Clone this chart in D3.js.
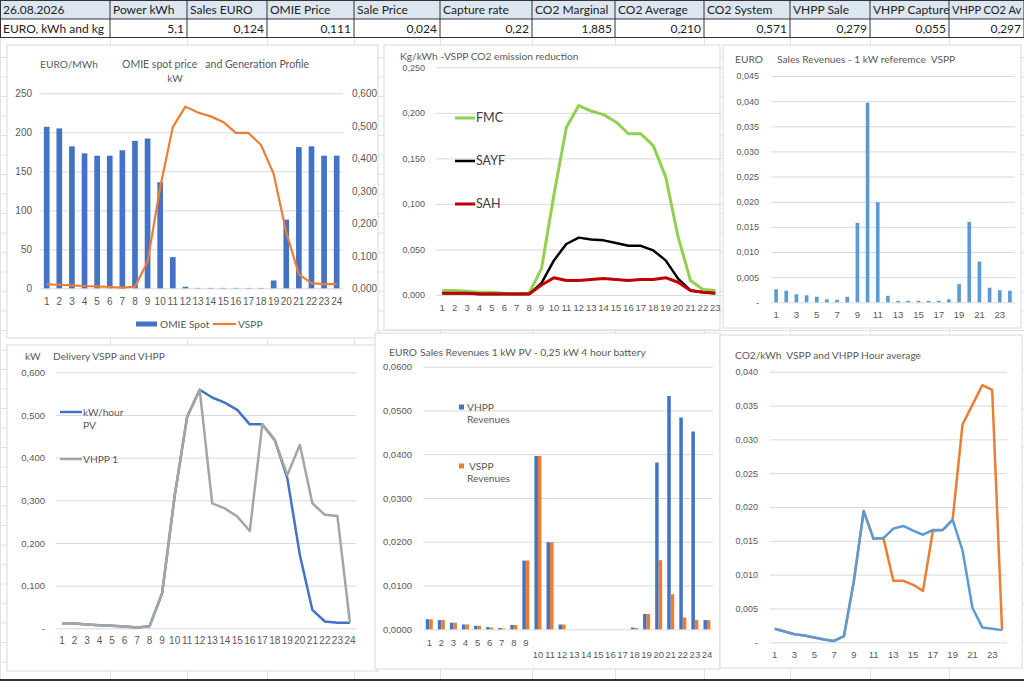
<!DOCTYPE html>
<html>
<head>
<meta charset="utf-8">
<script src="https://cdn.jsdelivr.net/npm/d3@7.9.0/dist/d3.min.js"></script>
<style>
  body { margin: 0; background: #fff; }
  svg { display: block; font-family: Lato, "Liberation Sans", sans-serif; }
</style>
</head>
<body>
<svg id="sheet" width="1024" height="681"></svg>
<script>
// ---- data ----
const tableHeads = ['26.08.2026', 'Power kWh', 'Sales EURO', 'OMIE Price', 'Sale Price', 'Capture rate',
  'CO2 Marginal', 'CO2 Average', 'CO2 System', 'VHPP Sale', 'VHPP Capture', 'VHPP CO2 Av'];
const tableValues = ['EURO, kWh and kg', '5,1', '0,124', '0,111', '0,024', '0,22',
  '1,885', '0,210', '0,571', '0,279', '0,055', '0,297'];

const hours = [1, 2, 3, 4, 5, 6, 7, 8, 9, 10, 11, 12, 13, 14, 15, 16, 17, 18, 19, 20, 21, 22, 23, 24];
const hours23 = [1, 2, 3, 4, 5, 6, 7, 8, 9, 10, 11, 12, 13, 14, 15, 16, 17, 18, 19, 20, 21, 22, 23];

const omieSpot = [207, 205, 182, 173, 170, 170, 177, 189, 192, 136, 40, 2, 0.5, 0.5, 0.5, 0.5, 0.5, 0.5, 10, 88, 181, 182, 170, 170];
const vsppKw = [0.012, 0.011, 0.009, 0.007, 0.006, 0.004, 0.002, 0.005, 0.082, 0.31, 0.496, 0.559,
  0.541, 0.529, 0.512, 0.478, 0.478, 0.441, 0.352, 0.172, 0.043, 0.016, 0.013, 0.013];
const vhppKw = [0.012, 0.011, 0.009, 0.007, 0.006, 0.004, 0.002, 0.005, 0.082, 0.31, 0.496, 0.559,
  0.293, 0.281, 0.262, 0.228, 0.478, 0.441, 0.359, 0.430, 0.293, 0.266, 0.263, 0.013];

const co2Fmc = [0.005, 0.005, 0.004, 0.003, 0.003, 0.002, 0.001, 0.002, 0.029, 0.110, 0.184, 0.208,
  0.202, 0.198, 0.190, 0.177, 0.177, 0.164, 0.130, 0.064, 0.016, 0.006, 0.005];
const co2Sayf = [0.002, 0.002, 0.002, 0.001, 0.001, 0.001, 0.001, 0.001, 0.013, 0.038, 0.056, 0.063,
  0.061, 0.060, 0.057, 0.054, 0.054, 0.049, 0.038, 0.018, 0.005, 0.003, 0.002];
const co2Sah = [0.002, 0.002, 0.002, 0.001, 0.001, 0.001, 0.001, 0.001, 0.011, 0.019, 0.016, 0.016,
  0.017, 0.018, 0.017, 0.016, 0.017, 0.017, 0.019, 0.014, 0.005, 0.003, 0.002];

const revVsppRef = [0.0026, 0.0023, 0.0016, 0.0014, 0.0011, 0.0006, 0.0005, 0.0011, 0.0158, 0.0397, 0.0199, 0.0013,
  0.0003, 0.0003, 0.0003, 0.0003, 0.0003, 0.0006, 0.0036, 0.0160, 0.0081, 0.0029, 0.0024, 0.0023];

const revVhpp = [0.0023, 0.0021, 0.0015, 0.0011, 0.0008, 0.0005, 0.0003, 0.0010, 0.0157, 0.0396, 0.0199, 0.0011,
  0, 0, 0, 0, 0, 0.0004, 0.0035, 0.0381, 0.0533, 0.0484, 0.0452, 0.0021];
const revVspp = [0.0023, 0.0021, 0.0015, 0.0011, 0.0008, 0.0004, 0.0002, 0.0010, 0.0157, 0.0396, 0.0199, 0.0011,
  0, 0, 0, 0, 0, 0.0003, 0.0035, 0.0158, 0.0080, 0.0027, 0.0021, 0.0021];

const co2VsppAvg = [0.0020, 0.0016, 0.0012, 0.0010, 0.0007, 0.0004, 0.0002, 0.0009, 0.0090, 0.0194, 0.0153, 0.0154,
  0.0168, 0.0172, 0.0165, 0.0159, 0.0166, 0.0166, 0.0181, 0.0136, 0.0051, 0.0022, 0.0020, 0.0018];
const co2VhppAvg = [0.0020, 0.0016, 0.0012, 0.0010, 0.0007, 0.0004, 0.0002, 0.0009, 0.0090, 0.0194, 0.0153, 0.0154,
  0.0091, 0.0091, 0.0085, 0.0076, 0.0165, 0.0166, 0.0181, 0.0322, 0.0351, 0.0380, 0.0373, 0.0018];

const ticksSpot = [0, 50, 100, 150, 200, 250];
const ticksKw = [0, 0.1, 0.2, 0.3, 0.4, 0.5, 0.6];
const ticksCo2 = [0, 0.05, 0.1, 0.15, 0.2, 0.25];
const ticksRef = [0, 0.005, 0.01, 0.015, 0.02, 0.025, 0.03, 0.035, 0.04, 0.045];
const ticksRev = [0, 0.01, 0.02, 0.03, 0.04, 0.05, 0.06];
const ticksAvg = [0, 0.005, 0.01, 0.015, 0.02, 0.025, 0.03, 0.035, 0.04];

// ---- helpers ----
const svg = d3.select('#sheet');
const gray = '#595959';
const titleSize = 10.2;

function comma(spec) {
  const f = d3.format(spec);
  return v => f(v).replace('.', ',');
}
function dashZero(spec) {
  const f = comma(spec);
  return v => (v === 0 ? '-' : f(v));
}

function panel(x, y, w, h) {
  svg.append('rect').attr('x', x).attr('y', y).attr('width', w).attr('height', h)
    .attr('fill', '#fff').attr('stroke', '#d9d9d9');
}

function label(x, y, txt, size, anchor) {
  return svg.append('text').attr('x', x).attr('y', y).attr('dy', '0.35em')
    .attr('font-size', size).attr('fill', gray).attr('text-anchor', anchor || 'start').text(txt);
}

// band x + linear y with gridlines and labels
function frame(o) {
  const x = d3.scaleBand().domain(o.cats).range([o.x0, o.x1])
    .paddingInner(o.pad || 0).paddingOuter((o.pad || 0) / 2);
  const y = d3.scaleLinear().domain(o.domain).range([o.yBot, o.yTop]);
  const fs = o.fs || 9;

  svg.append('g').attr('transform', `translate(${o.x0},0)`)
    .call(d3.axisLeft(y).tickValues(o.ticks).tickFormat(o.fmt)
      .tickSize(-(o.x1 - o.x0)).tickPadding(o.x0 - o.labelX))
    .call(g => g.select('.domain').remove())
    .call(g => g.selectAll('line').attr('stroke', '#d9d9d9'))
    .call(g => g.selectAll('text').attr('fill', gray).attr('font-size', fs).attr('font-family', null));

  svg.append('g').attr('transform', `translate(0,${o.yBot})`)
    .call(d3.axisBottom(x).tickSize(0).tickFormat(d => (o.show && !o.show(d) ? '' : d)))
    .call(g => g.select('.domain').remove())
    .call(g => g.selectAll('text').attr('fill', gray).attr('font-size', o.xfs || fs).attr('font-family', null)
      .attr('dy', '0.35em').attr('y', d => (o.labelY ? o.labelY(d) : o.xLabelY) - o.yBot));
  return { x, y };
}

// ---- spreadsheet background ----
const colEdges = [0, 110, 187, 267, 354, 440, 532, 615, 704, 790, 870, 949, 1024];
const sheet = svg.append('g').attr('stroke', '#e2e2e2');
colEdges.forEach(c => sheet.append('line').attr('x1', c + 0.5).attr('x2', c + 0.5).attr('y1', 38).attr('y2', 681));
for (let r = 38 + 19.5; r < 681; r += 19.5) {
  sheet.append('line').attr('x1', 0).attr('x2', 1024).attr('y1', r).attr('y2', r);
}

// ---- top table ----
const tbl = svg.append('g');
tbl.append('rect').attr('x', 0).attr('y', 0.5).attr('width', 1024).attr('height', 18.5).attr('fill', '#dce6f1');
tbl.append('rect').attr('x', 0).attr('y', 19).attr('width', 1024).attr('height', 18.5).attr('fill', '#fff');
[0.5, 19, 37.5].forEach(yy => tbl.append('line').attr('x1', 0).attr('x2', 1024).attr('y1', yy).attr('y2', yy)
  .attr('stroke', '#333'));
colEdges.forEach(c => tbl.append('line').attr('x1', Math.max(c, 0.5)).attr('x2', Math.max(c, 0.5))
  .attr('y1', 0).attr('y2', 38).attr('stroke', '#333'));
tableHeads.forEach((t, i) => {
  tbl.append('text').attr('x', colEdges[i] + 3).attr('y', 10).attr('dy', '0.35em')
    .attr('font-size', i === tableHeads.length - 1 ? 11 : 12).attr('fill', '#222').text(t);
});
tableValues.forEach((t, i) => {
  const left = i === 0;
  tbl.append('text').attr('x', left ? colEdges[i] + 3 : colEdges[i + 1] - 3).attr('y', 28.5).attr('dy', '0.35em')
    .attr('text-anchor', left ? 'start' : 'end').attr('font-size', 12).attr('fill', '#222').text(t);
});

// ---- chart 1: OMIE spot price and generation profile ----
panel(7, 45, 371, 293);
{
  const c = frame({ cats: hours, x0: 40.4, x1: 343, yBot: 288.3, yTop: 93.3, domain: [0, 250],
    ticks: ticksSpot, fmt: d3.format('d'), labelX: 32, xLabelY: 302, pad: 0.55, fs: 10 });
  const yR = d3.scaleLinear().domain([0, 0.6]).range([288.3, 93.3]);
  svg.append('g').attr('transform', 'translate(343,0)')
    .call(d3.axisRight(yR).tickValues(ticksKw).tickFormat(comma('.3f')).tickSize(0).tickPadding(9))
    .call(g => g.select('.domain').remove())
    .call(g => g.selectAll('text').attr('fill', gray).attr('font-size', 10).attr('font-family', null));

  svg.append('g').selectAll('rect').data(omieSpot).join('rect')
    .attr('x', (d, i) => c.x(hours[i])).attr('width', c.x.bandwidth())
    .attr('y', d => c.y(d)).attr('height', d => c.y(0) - c.y(d)).attr('fill', '#4472c4');

  svg.append('path').datum(vsppKw)
    .attr('d', d3.line().x((d, i) => c.x(hours[i]) + c.x.bandwidth() / 2).y(d => yR(d)))
    .attr('fill', 'none').attr('stroke', '#ed7d31').attr('stroke-width', 2.2).attr('stroke-linejoin', 'round');

  label(40, 64, 'EURO/MWh', titleSize);
  label(122, 64, 'OMIE spot price   and Generation Profile', titleSize + 0.3).attr('xml:space', 'preserve');
  label(175, 78, 'kW', titleSize, 'middle');
  svg.append('rect').attr('x', 136).attr('y', 321.5).attr('width', 21).attr('height', 5).attr('fill', '#4472c4');
  label(160, 324, 'OMIE Spot', titleSize);
  svg.append('line').attr('x1', 213).attr('x2', 236).attr('y1', 324).attr('y2', 324)
    .attr('stroke', '#ed7d31').attr('stroke-width', 2.2);
  label(238, 324, 'VSPP', titleSize);
}

// ---- chart 2: CO2 emission reduction ----
panel(384, 45, 336, 285);
{
  const c = frame({ cats: hours23, x0: 436, x1: 721.5, yBot: 295, yTop: 67.3, domain: [0, 0.25],
    ticks: ticksCo2, fmt: comma('.3f'), labelX: 425, xLabelY: 308, fs: 9, xfs: 9.5 });
  const line = d3.line().x((d, i) => c.x(hours23[i]) + c.x.bandwidth() / 2).y(d => c.y(d));
  const series = [
    { name: 'FMC', vals: co2Fmc, color: '#92d050', w: 3, ly: 118 },
    { name: 'SAYF', vals: co2Sayf, color: '#000000', w: 2.5, ly: 161 },
    { name: 'SAH', vals: co2Sah, color: '#c00000', w: 3, ly: 204 }
  ];
  series.forEach(s => {
    svg.append('path').datum(s.vals).attr('d', line).attr('fill', 'none')
      .attr('stroke', s.color).attr('stroke-width', s.w).attr('stroke-linejoin', 'round');
    svg.append('line').attr('x1', 455).attr('x2', 475).attr('y1', s.ly).attr('y2', s.ly)
      .attr('stroke', s.color).attr('stroke-width', s.w);
    label(476, s.ly, s.name, 12.5).attr('fill', '#404040');
  });
  label(400, 56, 'Kg/kWh -VSPP CO2 emission reduction', titleSize);
}

// ---- chart 3: sales revenues reference VSPP ----
panel(723, 45, 298, 283);
{
  const c = frame({ cats: hours, x0: 771, x1: 1015, yBot: 302.3, yTop: 76, domain: [0, 0.045],
    ticks: ticksRef, fmt: dashZero('.3f'), labelX: 759, xLabelY: 315, pad: 0.64, fs: 9, xfs: 9.5,
    show: d => d % 2 === 1 });
  svg.append('g').selectAll('rect').data(revVsppRef).join('rect')
    .attr('x', (d, i) => c.x(hours[i])).attr('width', c.x.bandwidth())
    .attr('y', d => c.y(d)).attr('height', d => c.y(0) - c.y(d)).attr('fill', '#5b9bd5');
  label(735, 59, 'EURO', titleSize);
  label(777, 59, 'Sales Revenues - 1 kW referemce  VSPP', titleSize).attr('xml:space', 'preserve');
}

// ---- chart 4: delivery VSPP and VHPP ----
panel(7, 345, 371, 326);
{
  const c = frame({ cats: hours, x0: 55.7, x1: 356.2, yBot: 628.3, yTop: 372.3, domain: [0, 0.6],
    ticks: ticksKw, fmt: dashZero('.3f'), labelX: 45, xLabelY: 641, fs: 9.5, xfs: 10 });
  const line = d3.line().x((d, i) => c.x(hours[i]) + c.x.bandwidth() / 2).y(d => c.y(d));
  svg.append('path').datum(vsppKw).attr('d', line).attr('fill', 'none')
    .attr('stroke', '#4472c4').attr('stroke-width', 2.5).attr('stroke-linejoin', 'round');
  svg.append('path').datum(vhppKw).attr('d', line).attr('fill', 'none')
    .attr('stroke', '#a5a5a5').attr('stroke-width', 2.5).attr('stroke-linejoin', 'round');

  label(25, 356, 'kW', titleSize);
  label(53, 356, 'Delivery VSPP and VHPP', titleSize);
  svg.append('line').attr('x1', 60).attr('x2', 82).attr('y1', 412).attr('y2', 412)
    .attr('stroke', '#4472c4').attr('stroke-width', 2.5);
  label(83, 412, 'kW/hour', titleSize);
  label(83, 425, 'PV', titleSize);
  svg.append('line').attr('x1', 60).attr('x2', 82).attr('y1', 459).attr('y2', 459)
    .attr('stroke', '#a5a5a5').attr('stroke-width', 2.5);
  label(83, 459, 'VHPP 1', titleSize);
}

// ---- chart 5: sales revenues PV + battery ----
panel(375, 333, 345, 336);
{
  const c = frame({ cats: hours, x0: 423.25, x1: 713, yBot: 629.3, yTop: 366.7, domain: [0, 0.06],
    ticks: ticksRev, fmt: comma('.4f'), labelX: 412, fs: 9.5, pad: 0.42,
    labelY: d => (d < 10 ? 643 : 655) });
  const sub = d3.scaleBand().domain(['vhpp', 'vspp']).range([0, c.x.bandwidth()]);
  const groups = [{ key: 'vhpp', vals: revVhpp, color: '#4472c4' }, { key: 'vspp', vals: revVspp, color: '#ed7d31' }];
  groups.forEach(s => {
    svg.append('g').selectAll('rect').data(s.vals).join('rect')
      .attr('x', (d, i) => c.x(hours[i]) + sub(s.key)).attr('width', sub.bandwidth())
      .attr('y', d => c.y(d)).attr('height', d => c.y(0) - c.y(d)).attr('fill', s.color);
  });
  label(389, 352, 'EURO', titleSize);
  label(420, 352, 'Sales Revenues 1 kW PV - 0,25 kW 4 hour battery', titleSize + 0.1);
  svg.append('rect').attr('x', 459).attr('y', 404.5).attr('width', 5).attr('height', 5).attr('fill', '#4472c4');
  label(467, 407, 'VHPP', titleSize);
  label(467, 419, 'Revenues', titleSize);
  svg.append('rect').attr('x', 459).attr('y', 463.5).attr('width', 5).attr('height', 5).attr('fill', '#ed7d31');
  label(469, 466, 'VSPP', titleSize);
  label(467, 478, 'Revenues', titleSize);
}

// ---- chart 6: CO2 hour average ----
panel(720, 335, 302, 333);
{
  const c = frame({ cats: hours, x0: 769.8, x1: 1007, yBot: 642.3, yTop: 371.7, domain: [0, 0.04],
    ticks: ticksAvg, fmt: dashZero('.3f'), labelX: 758, xLabelY: 655, fs: 9, xfs: 9.5,
    show: d => d % 2 === 1 });
  const line = d3.line().x((d, i) => c.x(hours[i]) + c.x.bandwidth() / 2).y(d => c.y(d));
  svg.append('path').datum(co2VhppAvg).attr('d', line).attr('fill', 'none')
    .attr('stroke', '#ed7d31').attr('stroke-width', 2.5).attr('stroke-linejoin', 'round');
  svg.append('path').datum(co2VsppAvg).attr('d', line).attr('fill', 'none')
    .attr('stroke', '#5b9bd5').attr('stroke-width', 2.5).attr('stroke-linejoin', 'round');
  label(735, 355, 'CO2/kWh  VSPP and VHPP Hour average', titleSize).attr('xml:space', 'preserve');
}

// bottom frame edge
svg.append('line').attr('x1', 0).attr('x2', 1024).attr('y1', 680).attr('y2', 680).attr('stroke', '#333').attr('stroke-width', 2);
</script>
</body>
</html>
